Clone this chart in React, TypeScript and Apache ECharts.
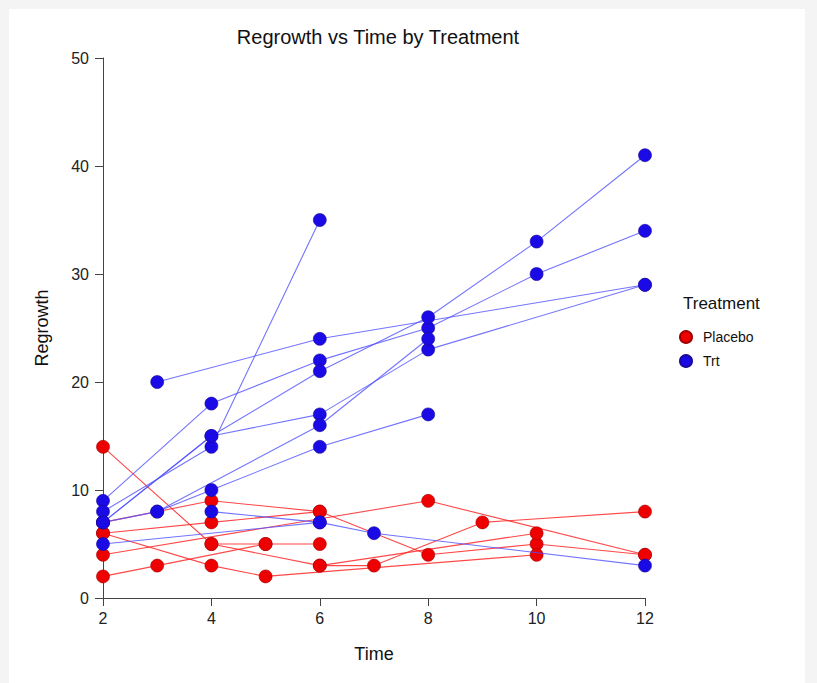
import React, { useEffect, useRef } from "react";
import * as echarts from "echarts";

// Time ticks and value ticks
const timeTicks = [2, 4, 6, 8, 10, 12];
const regrowthTicks = [0, 10, 20, 30, 40, 50];

// Placebo subjects: [time, regrowth]
const placebo1 = [[2, 14], [4, 5], [5, 5], [6, 5]];
const placebo2 = [[2, 7], [4, 9], [6, 8], [8, 4], [10, 5], [12, 4]];
const placebo3 = [[2, 6], [4, 7], [6, 8]];
const placebo4 = [[2, 4], [8, 9], [12, 4]];
const placebo5 = [[2, 2], [3, 3], [5, 5]];
const placebo6 = [[2, 6], [4, 3], [5, 2], [10, 4]];
const placebo7 = [[4, 5], [6, 3], [7, 3], [9, 7], [12, 8]];
const placebo8 = [[6, 3], [10, 6]];

// Treatment subjects
const trt1 = [[3, 20], [6, 24], [12, 29]];
const trt2 = [[2, 9], [4, 18], [6, 22], [8, 25], [10, 30], [12, 34]];
const trt3 = [[2, 7], [4, 15], [6, 21], [8, 26], [10, 33], [12, 41]];
const trt4 = [[2, 8], [4, 14], [6, 35]];
const trt5 = [[2, 7], [4, 15], [6, 17], [8, 23], [12, 29]];
const trt6 = [[3, 8], [6, 16], [8, 24]];
const trt7 = [[2, 7], [3, 8], [4, 10], [6, 14], [8, 17]];
const trt8 = [[2, 5], [6, 7]];
const trt9 = [[4, 8], [6, 7], [7, 6], [12, 3]];

const placeboSubjects = [placebo1, placebo2, placebo3, placebo4, placebo5, placebo6, placebo7, placebo8];
const trtSubjects = [trt1, trt2, trt3, trt4, trt5, trt6, trt7, trt8, trt9];

const FONT = "'Liberation Sans', Arial, sans-serif";

export default function App() {
  const ref = useRef<HTMLDivElement>(null);
  useEffect(() => {
    if (!ref.current) return;
    const chart = echarts.init(ref.current, null, { renderer: "svg" });
    const mk = (data: number[][], name: string, line: string, fill: string, border: string, z: number) => ({
      type: "line",
      name,
      data,
      symbol: "circle",
      symbolSize: 13,
      showSymbol: true,
      lineStyle: { color: line, width: 1.1 },
      itemStyle: { color: fill, borderColor: border, borderWidth: 0.6 },
      emphasis: { disabled: true },
      z,
    });
    const series = [
      ...placeboSubjects.map((d) => mk(d, "Placebo", "rgba(255,40,40,0.85)", "#ee0000", "#a00000", 2)),
      ...trtSubjects.map((d) => mk(d, "Trt", "rgba(80,80,255,0.8)", "#1a0ae6", "#1a0a9a", 3)),
    ];
    chart.setOption({
      animation: false,
      backgroundColor: "#ffffff",
      textStyle: { fontFamily: FONT },
      title: [
        {
          text: "Regrowth vs Time by Treatment",
          left: 364,
          textAlign: "center",
          top: 13,
          textStyle: { fontFamily: FONT, fontSize: 20, fontWeight: "normal", color: "#111" },
        },
        {
          text: "Treatment",
          left: 669,
          top: 281,
          textStyle: { fontFamily: FONT, fontSize: 17, fontWeight: "normal", color: "#111" },
        },
      ],
      legend: {
        data: ["Placebo", "Trt"],
        orient: "vertical",
        left: 665,
        top: 316,
        itemGap: 10,
        itemWidth: 24,
        itemHeight: 12,
        symbolKeepAspect: true,
        icon: "circle",
        selectedMode: false,
        textStyle: { fontFamily: FONT, fontSize: 14, color: "#111" },
      },
      grid: { left: 94, top: 49, width: 542, height: 540, containLabel: false },
      xAxis: {
        type: "value",
        min: timeTicks[0],
        max: timeTicks[timeTicks.length - 1],
        interval: 2,
        name: "Time",
        nameLocation: "middle",
        nameGap: 47,
        nameTextStyle: { fontFamily: FONT, fontSize: 18, color: "#111" },
        axisLine: { lineStyle: { color: "#444", width: 1 } },
        axisTick: { length: 8, lineStyle: { color: "#444" } },
        axisLabel: { fontFamily: FONT, fontSize: 16, color: "#222", margin: 12 },
        splitLine: { show: false },
      },
      yAxis: {
        type: "value",
        min: regrowthTicks[0],
        max: regrowthTicks[regrowthTicks.length - 1],
        interval: 10,
        name: "Regrowth",
        nameLocation: "middle",
        nameGap: 52,
        nameTextStyle: { fontFamily: FONT, fontSize: 18, color: "#111" },
        axisLine: { show: true, lineStyle: { color: "#444", width: 1 } },
        axisTick: { show: true, length: 8, lineStyle: { color: "#444" } },
        axisLabel: { fontFamily: FONT, fontSize: 16, color: "#222", margin: 14 },
        splitLine: { show: false },
      },
      series,
    });
    return () => chart.dispose();
  }, []);
  return (
    <div style={{ position: "fixed", inset: 0, background: "#f4f4f4" }}>
      <div
        ref={ref}
        style={{ position: "absolute", left: 9, top: 9, width: 796, height: 674, background: "#fff" }}
      />
    </div>
  );
}
